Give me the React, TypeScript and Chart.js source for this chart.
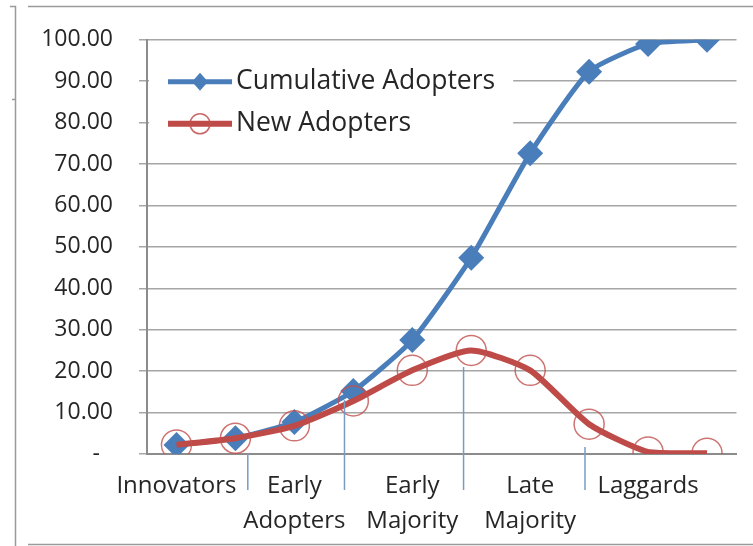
import React, { useEffect, useRef } from "react";
import { Chart, registerables } from "chart.js";

Chart.register(...registerables);

// ---- data ----
const categories = [
  "Innovators", "", "Early Adopters", "", "Early Majority", "",
  "Late Majority", "", "Laggards", "",
];
const cumulativeAdopters = [2.2, 3.8, 7.7, 15.2, 27.5, 47.4, 72.6, 92.3, 99.0, 100.0];
const newAdopters = [2.2, 3.8, 6.8, 12.8, 20.2, 25.0, 20.2, 7.2, 0.5, 0.2];
const seriesNames = ["Cumulative Adopters", "New Adopters"];
// separator lines between adopter groups (category-index position, top value)
const separatorPositions = [1.21, 2.85, 4.87, 6.93];
const separatorTops = [0, 13, 21, 1.7];

const BLUE = "#4a7ebb";
const RED = "#be4b48";
const FONT = "'Open Sans', Lato, sans-serif";
const TEXT = "#262626";

const framePlugin = {
  id: "frame",
  beforeDraw(chart: any) {
    const ctx = chart.ctx;
    const w = chart.width;
    const h = chart.height;
    ctx.save();
    ctx.fillStyle = "#ffffff";
    ctx.fillRect(0, 0, w, h);
    ctx.strokeStyle = "#9a9a9a";
    ctx.lineWidth = 1.5;
    ctx.beginPath();
    ctx.moveTo(28, 6.5);
    ctx.lineTo(w, 6.5);
    ctx.moveTo(10, 6.5);
    ctx.lineTo(15.5, 6.5);
    ctx.lineTo(15.5, h);
    ctx.moveTo(12, 99.5);
    ctx.lineTo(15.5, 99.5);
    ctx.moveTo(28, 544.5);
    ctx.lineTo(w, 544.5);
    ctx.stroke();
    ctx.restore();
  },
};

const overlayPlugin = {
  id: "overlay",
  afterDatasetsDraw(chart: any) {
    const ctx = chart.ctx;
    const xs = chart.scales.x;
    const ys = chart.scales.y;
    const area = chart.chartArea;
    ctx.save();
    // separators
    ctx.strokeStyle = "#7a9cc4";
    ctx.lineWidth = 1.5;
    separatorPositions.forEach((p, i) => {
      const x = xs.getPixelForValue(p);
      const yTop = ys.getPixelForValue(separatorTops[i]);
      ctx.beginPath();
      ctx.moveTo(x, yTop);
      ctx.lineTo(x, area.bottom + 36);
      ctx.stroke();
    });
    // legend
    ctx.font = `26.5px ${FONT}`;
    const rowY = [area.top + 42, area.top + 84];
    const lineX0 = area.left + 21;
    const lineX1 = area.left + 85;
    const textX = lineX1 + 4;
    const maxW = Math.max(...seriesNames.map((n) => ctx.measureText(n).width));
    ctx.fillStyle = "#ffffff";
    ctx.fillRect(area.left + 2, area.top + 20, textX + maxW + 18 - area.left - 2, 102);
    const colors = [BLUE, RED];
    seriesNames.forEach((name, i) => {
      const y = rowY[i];
      const mx = (lineX0 + lineX1) / 2;
      ctx.strokeStyle = colors[i];
      ctx.lineWidth = i === 0 ? 5 : 6;
      ctx.beginPath();
      ctx.moveTo(lineX0, y);
      ctx.lineTo(lineX1, y);
      ctx.stroke();
      if (i === 0) {
        ctx.fillStyle = BLUE;
        ctx.beginPath();
        ctx.moveTo(mx, y - 9);
        ctx.lineTo(mx + 8, y);
        ctx.lineTo(mx, y + 9);
        ctx.lineTo(mx - 8, y);
        ctx.closePath();
        ctx.fill();
      } else {
        ctx.strokeStyle = "rgba(192,80,77,0.85)";
        ctx.lineWidth = 1.5;
        ctx.beginPath();
        ctx.arc(mx, y, 10, 0, Math.PI * 2);
        ctx.stroke();
      }
      ctx.fillStyle = TEXT;
      ctx.textAlign = "left";
      ctx.textBaseline = "middle";
      ctx.fillText(name, textX, y);
    });
    ctx.restore();
  },
};

export default function App() {
  const ref = useRef<HTMLCanvasElement | null>(null);
  useEffect(() => {
    if (!ref.current) return;
    const chart = new Chart(ref.current, {
      type: "line",
      data: {
        labels: categories,
        datasets: [
          {
            label: seriesNames[0],
            data: cumulativeAdopters,
            borderColor: BLUE,
            backgroundColor: BLUE,
            borderWidth: 5,
            pointStyle: "rectRot",
            pointRadius: 13,
            pointBorderWidth: 0,
            pointBackgroundColor: BLUE,
            tension: 0.18,
            order: 2,
          },
          {
            label: seriesNames[1],
            data: newAdopters,
            borderColor: RED,
            borderWidth: 6,
            pointStyle: "circle",
            pointRadius: 15,
            pointBackgroundColor: "rgba(0,0,0,0)",
            pointBorderColor: "rgba(192,80,77,0.8)",
            pointBorderWidth: 1.5,
            tension: 0.2,
            order: 1,
          },
        ],
      },
      options: {
        animation: false,
        responsive: false,
        layout: { padding: { top: 38, right: 10, left: 0, bottom: 0 } },
        plugins: { legend: { display: false }, tooltip: { enabled: false } },
        scales: {
          x: {
            offset: true,
            grid: { display: false, drawTicks: false, offset: true },
            border: { color: "#8c8c8c", width: 2 },
            ticks: {
              autoSkip: false,
              maxRotation: 0,
              minRotation: 0,
              padding: 15,
              color: TEXT,
              font: { family: FONT, size: 24, lineHeight: 1.45 },
              callback: (_v: any, i: number) => categories[i].split(" "),
            },
            afterFit: (s: any) => {
              s.height = 92;
            },
          },
          y: {
            min: 0,
            max: 100,
            ticks: {
              stepSize: 10,
              padding: 26,
              color: TEXT,
              font: { family: FONT, size: 23 },
              callback: (v: any) => (Number(v) === 0 ? "-\u2007" : Number(v).toFixed(2)),
            },
            grid: { color: "#a6a6a6", lineWidth: 1.5, tickLength: 8 },
            border: { color: "#8c8c8c", width: 2 },
            afterFit: (s: any) => {
              s.width = 147;
            },
          },
        },
      },
      plugins: [framePlugin, overlayPlugin],
    });
    return () => chart.destroy();
  }, []);
  return (
    <div style={{ position: "fixed", left: 0, top: 0, width: 753, height: 546 }}>
      <canvas ref={ref} width={753} height={546} style={{ display: "block", width: 753, height: 546 }} />
    </div>
  );
}
